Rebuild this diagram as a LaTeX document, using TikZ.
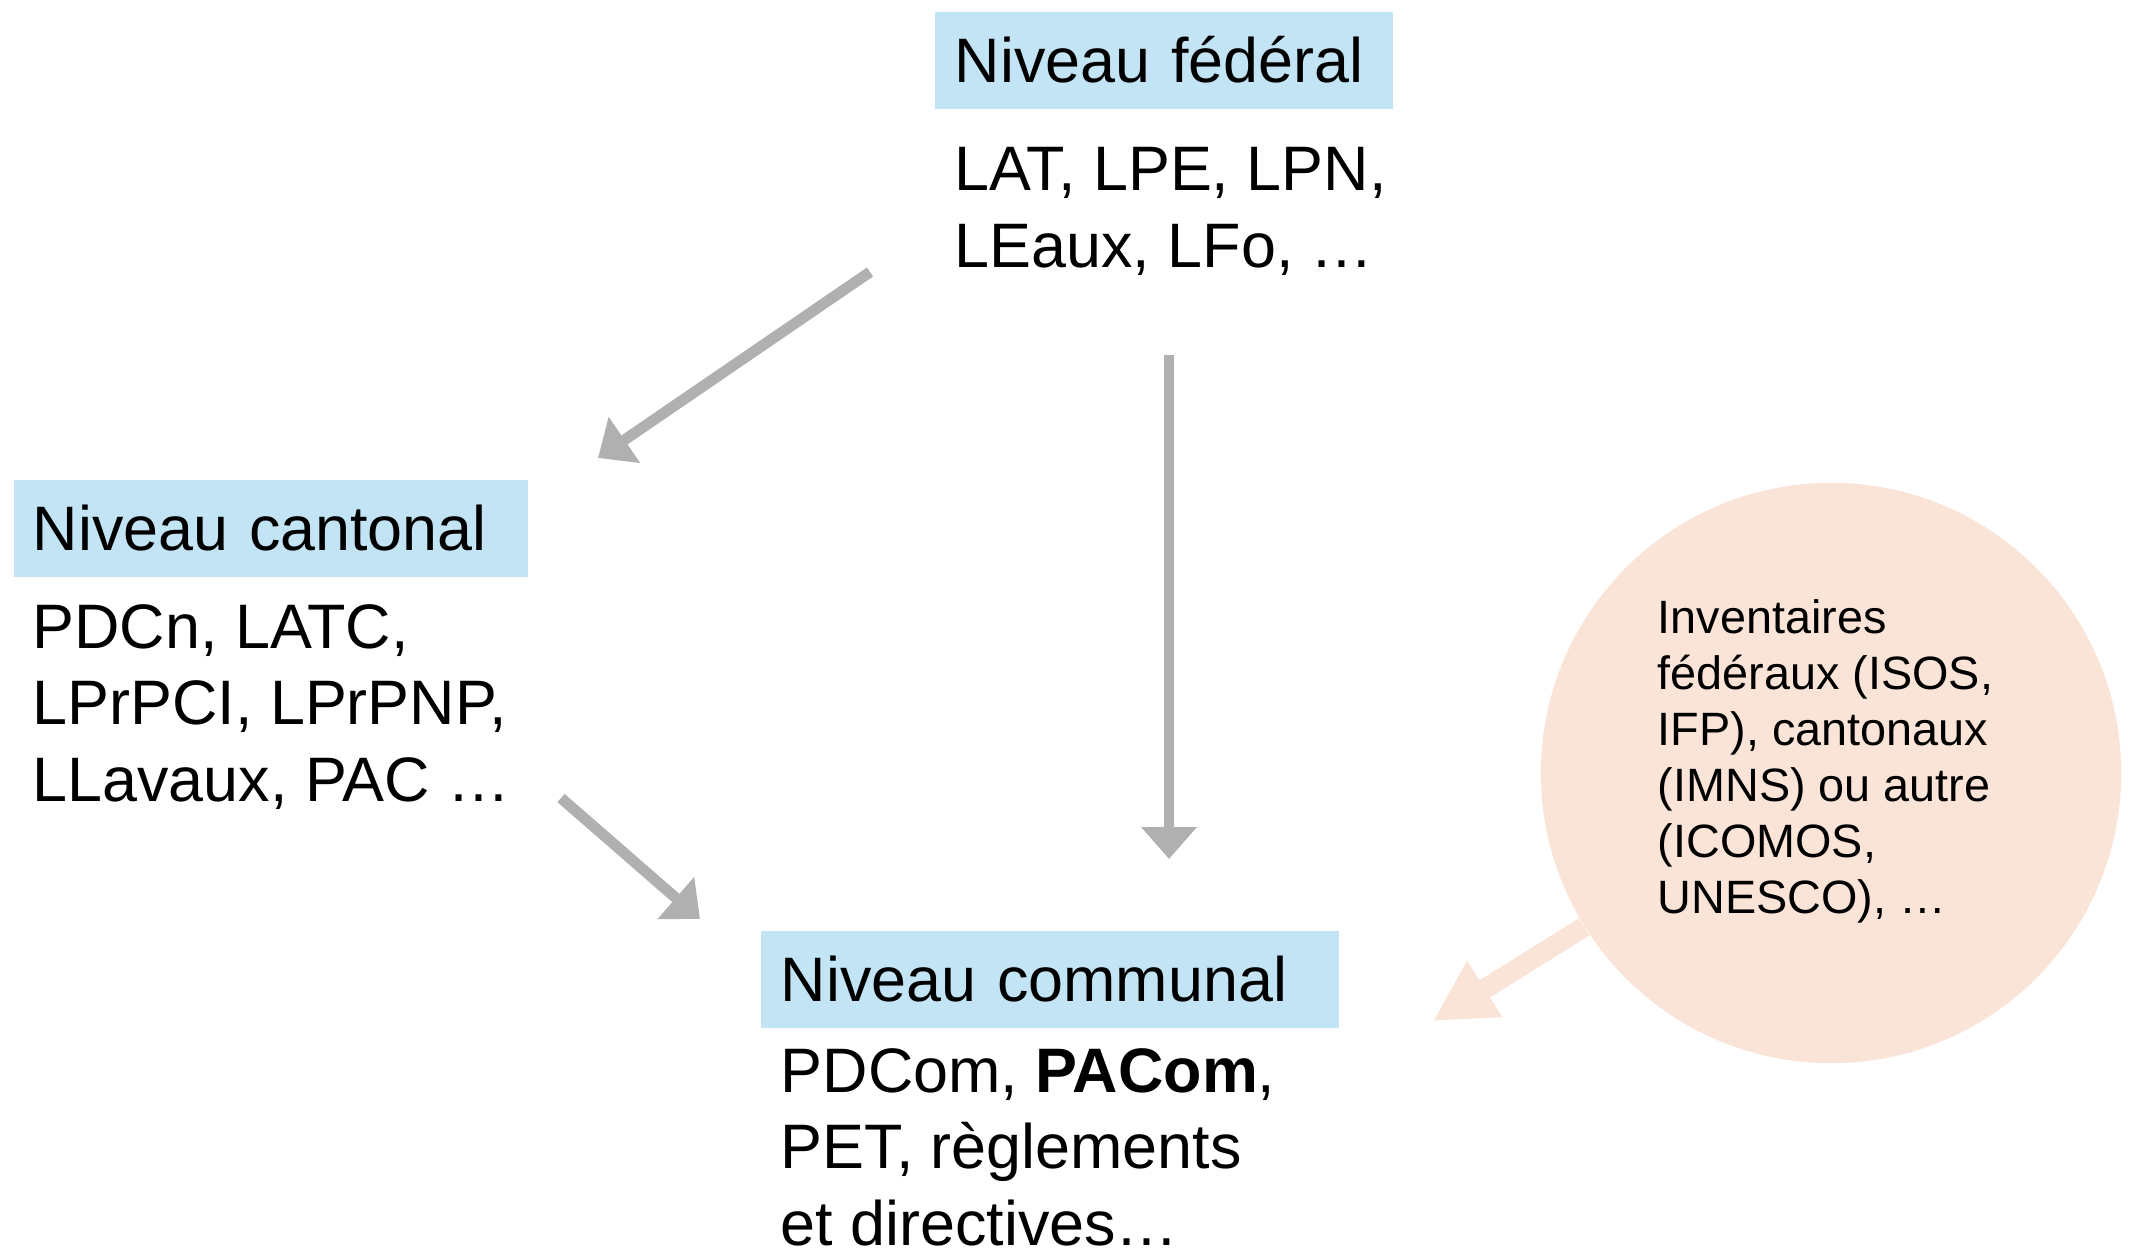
\documentclass[tikz,border=0pt]{standalone}
\usepackage{fontspec}
\setmainfont{Liberation Sans}
\usepackage{xcolor}
\usetikzlibrary{arrows.meta, positioning}

\definecolor{levelblue}{RGB}{194,228,244}
\definecolor{invpink}{RGB}{250,227,215}
\definecolor{arrowgray}{RGB}{176,176,176}

\tikzset{
    levelhead/.style={fill=levelblue, anchor=north west, align=left,
        text height=0.45cm, text depth=0cm, inner ysep=0.26cm,
        font=\fontsize{17.87}{21.7}\selectfont},
    leveltext/.style={anchor=base west, align=left, inner sep=0pt,
        font=\fontsize{17.87}{21.7}\selectfont},
    invcircle/.style={circle, fill=invpink, minimum size=5.8cm, inner sep=0pt},
    invtext/.style={anchor=base west, align=left, inner sep=0pt,
        font=\fontsize{13.3}{15.9}\selectfont},
    grayarrow/.style={draw=arrowgray, line width=3.1pt,
        -{Triangle[width=15.3pt, length=9.1pt]}},
    pinkarrow/.style={draw=invpink, line width=5.7pt,
        -{Triangle[width=17.6pt, length=17.3pt]}}
}

\begin{document}
\begin{tikzpicture}[x=0.01cm, y=-0.01cm]
        \useasboundingbox (0, 0) rectangle (2131, 1250);

        \node[invcircle] (inv) at (1831, 773) {};
        \node[invtext] (invtxt) at (1657, 913) {Inventaires\\fédéraux (ISOS,\\IFP), cantonaux\\(IMNS) ou autre\\(ICOMOS,\\UNESCO), …};

        \node[levelhead, inner xsep=0.20cm, text width=4.18cm] (fedhead) at (934, 11) {Niveau fédéral};
        \node[leveltext] (fedtxt) at (954, 267) {LAT, LPE, LPN,\\LEaux, LFo, …};

        \node[levelhead, inner xsep=0.19cm, text width=4.76cm] (canhead) at (13, 479) {Niveau cantonal};
        \node[leveltext] (cantxt) at (32, 801) {PDCn, LATC,\\LPrPCI, LPrPNP,\\LLavaux, PAC …};

        \node[levelhead, inner xsep=0.20cm, text width=5.38cm] (comhead) at (760, 930) {Niveau communal};
        \node[leveltext] (comtxt) at (780, 1245) {PDCom, \textbf{PACom},\\PET, règlements\\et directives…};

        \coordinate (fedleft) at (870, 272);
        \coordinate (canin) at (598, 458);
        \coordinate (feddown) at (1169, 355);
        \coordinate (comtop) at (1169, 859);
        \coordinate (canright) at (561, 798);
        \coordinate (comleft) at (700, 919);
        \coordinate (comright) at (1433, 1021);

        \draw[grayarrow] (fedleft) -- (canin);
        \draw[grayarrow] (feddown) -- (comtop);
        \draw[grayarrow] (canright) -- (comleft);
        \draw[pinkarrow] (inv) -- (comright);
    \end{tikzpicture}
\end{document}
